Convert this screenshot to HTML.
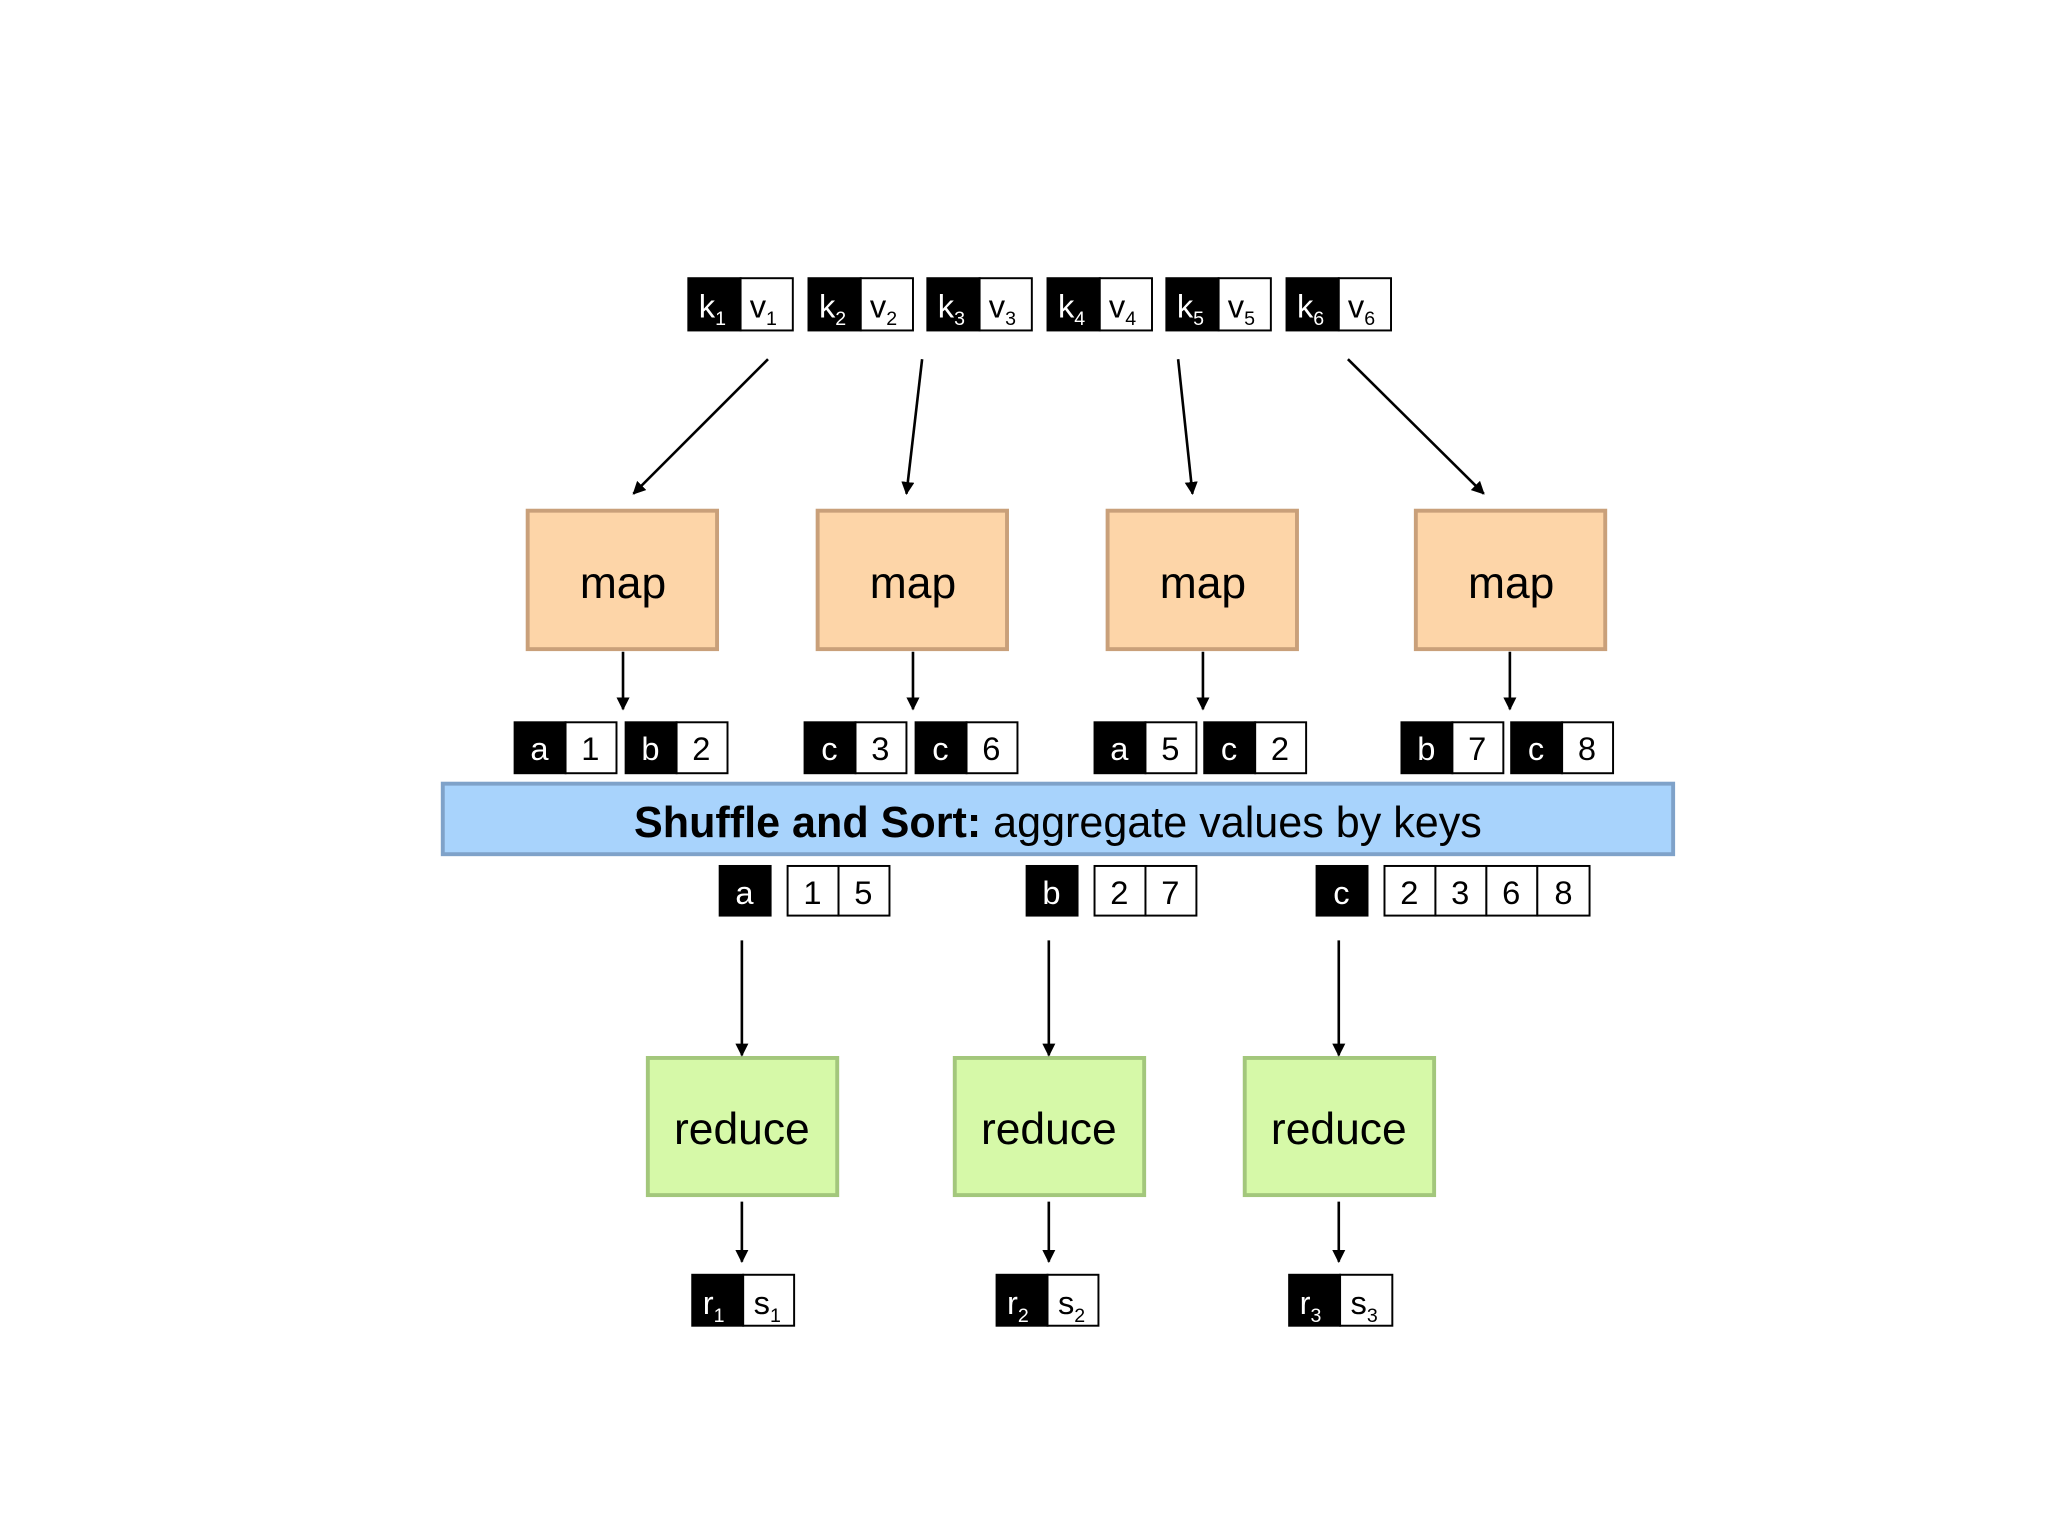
<!DOCTYPE html>
<html><head><meta charset="utf-8"><style>
html,body{margin:0;padding:0;background:#fff;}
svg{display:block;}
text{font-family:"Liberation Sans",sans-serif;}
</style></head><body>
<svg width="2048" height="1536" viewBox="0 0 1568 1176" xmlns="http://www.w3.org/2000/svg">
<defs><marker id="ah" markerWidth="10" markerHeight="10" refX="9" refY="5" orient="auto" markerUnits="userSpaceOnUse"><path d="M0,0 L10,5 L0,10 z" fill="#000"/></marker></defs>
<rect width="1568" height="1176" fill="#fff"/>
<g stroke="#000" stroke-width="1.5">
<!-- top pairs -->
<rect x="527" y="213" width="40" height="40" fill="#000"/><rect x="567" y="213" width="40" height="40" fill="#fff"/>
<rect x="619" y="213" width="40" height="40" fill="#000"/><rect x="659" y="213" width="40" height="40" fill="#fff"/>
<rect x="710" y="213" width="40" height="40" fill="#000"/><rect x="750" y="213" width="40" height="40" fill="#fff"/>
<rect x="802" y="213" width="40" height="40" fill="#000"/><rect x="842" y="213" width="40" height="40" fill="#fff"/>
<rect x="893" y="213" width="40" height="40" fill="#000"/><rect x="933" y="213" width="40" height="40" fill="#fff"/>
<rect x="985" y="213" width="40" height="40" fill="#000"/><rect x="1025" y="213" width="40" height="40" fill="#fff"/>
<!-- map outputs -->
<rect x="394" y="553" width="39" height="39" fill="#000"/><rect x="433" y="553" width="39" height="39" fill="#fff"/>
<rect x="479" y="553" width="39" height="39" fill="#000"/><rect x="518" y="553" width="39" height="39" fill="#fff"/>
<rect x="616" y="553" width="39" height="39" fill="#000"/><rect x="655" y="553" width="39" height="39" fill="#fff"/>
<rect x="701" y="553" width="39" height="39" fill="#000"/><rect x="740" y="553" width="39" height="39" fill="#fff"/>
<rect x="838" y="553" width="39" height="39" fill="#000"/><rect x="877" y="553" width="39" height="39" fill="#fff"/>
<rect x="922" y="553" width="39" height="39" fill="#000"/><rect x="961" y="553" width="39" height="39" fill="#fff"/>
<rect x="1073" y="553" width="39" height="39" fill="#000"/><rect x="1112" y="553" width="39" height="39" fill="#fff"/>
<rect x="1157" y="553" width="39" height="39" fill="#000"/><rect x="1196" y="553" width="39" height="39" fill="#fff"/>
<!-- grouped -->
<rect x="551" y="663" width="39" height="38" fill="#000"/>
<rect x="603" y="663" width="39" height="38" fill="#fff"/><rect x="642" y="663" width="39" height="38" fill="#fff"/>
<rect x="786" y="663" width="39" height="38" fill="#000"/>
<rect x="838" y="663" width="39" height="38" fill="#fff"/><rect x="877" y="663" width="39" height="38" fill="#fff"/>
<rect x="1008" y="663" width="39" height="38" fill="#000"/>
<rect x="1060" y="663" width="39" height="38" fill="#fff"/><rect x="1099" y="663" width="39" height="38" fill="#fff"/><rect x="1138" y="663" width="39" height="38" fill="#fff"/><rect x="1177" y="663" width="40" height="38" fill="#fff"/>
<!-- outputs -->
<rect x="530" y="976" width="39" height="39" fill="#000"/><rect x="569" y="976" width="39" height="39" fill="#fff"/>
<rect x="763" y="976" width="39" height="39" fill="#000"/><rect x="802" y="976" width="39" height="39" fill="#fff"/>
<rect x="987" y="976" width="39" height="39" fill="#000"/><rect x="1026" y="976" width="40" height="39" fill="#fff"/>
</g>
<!-- boxes -->
<g fill="#fdd5a8" stroke="#c9a07a" stroke-width="3">
<rect x="404" y="391" width="145" height="106"/><rect x="626" y="391" width="145" height="106"/>
<rect x="848" y="391" width="145" height="106"/><rect x="1084" y="391" width="145" height="106"/>
</g>
<rect x="339" y="600" width="942" height="54" fill="#a8d3fc" stroke="#7fa2c9" stroke-width="3"/>
<g fill="#d6f9a8" stroke="#a3c77c" stroke-width="3">
<rect x="496" y="810" width="145" height="105"/><rect x="731" y="810" width="145" height="105"/><rect x="953" y="810" width="145" height="105"/>
</g>
<!-- arrows -->
<g stroke="#000" stroke-width="2" marker-end="url(#ah)">
<line x1="588" y1="275" x2="485" y2="378"/><line x1="706" y1="275" x2="694" y2="378"/>
<line x1="902" y1="275" x2="913" y2="378"/><line x1="1032" y1="275" x2="1136" y2="378"/>
<line x1="477" y1="499" x2="477" y2="543"/><line x1="699" y1="499" x2="699" y2="543"/>
<line x1="921" y1="499" x2="921" y2="543"/><line x1="1156" y1="499" x2="1156" y2="543"/>
<line x1="568" y1="720" x2="568" y2="808"/><line x1="803" y1="720" x2="803" y2="808"/><line x1="1025" y1="720" x2="1025" y2="808"/>
<line x1="568" y1="920" x2="568" y2="966"/><line x1="803" y1="920" x2="803" y2="966"/><line x1="1025" y1="920" x2="1025" y2="966"/>
</g>
<!-- box labels -->
<g font-size="34" text-anchor="middle" fill="#000">
<text x="477" y="458">map</text><text x="699" y="458">map</text><text x="921" y="458">map</text><text x="1157" y="458">map</text>
<text x="568" y="876">reduce</text><text x="803" y="876">reduce</text><text x="1025" y="876">reduce</text>
</g>
<text x="810" y="641" font-size="33" text-anchor="middle" fill="#000"><tspan font-weight="bold">Shuffle and Sort:</tspan> aggregate values by keys</text>
<!-- top labels -->
<g font-size="25" fill="#fff">
<text x="535" y="243">k<tspan font-size="15" dy="6">1</tspan></text>
<text x="627" y="243">k<tspan font-size="15" dy="6">2</tspan></text>
<text x="718" y="243">k<tspan font-size="15" dy="6">3</tspan></text>
<text x="810" y="243">k<tspan font-size="15" dy="6">4</tspan></text>
<text x="901" y="243">k<tspan font-size="15" dy="6">5</tspan></text>
<text x="993" y="243">k<tspan font-size="15" dy="6">6</tspan></text>
<text x="538" y="1006">r<tspan font-size="15" dy="6">1</tspan></text>
<text x="771" y="1006">r<tspan font-size="15" dy="6">2</tspan></text>
<text x="995" y="1006">r<tspan font-size="15" dy="6">3</tspan></text>
</g>
<g font-size="25" fill="#000">
<text x="574" y="243">v<tspan font-size="15" dy="6">1</tspan></text>
<text x="666" y="243">v<tspan font-size="15" dy="6">2</tspan></text>
<text x="757" y="243">v<tspan font-size="15" dy="6">3</tspan></text>
<text x="849" y="243">v<tspan font-size="15" dy="6">4</tspan></text>
<text x="940" y="243">v<tspan font-size="15" dy="6">5</tspan></text>
<text x="1032" y="243">v<tspan font-size="15" dy="6">6</tspan></text>
<text x="577" y="1006">s<tspan font-size="15" dy="6">1</tspan></text>
<text x="810" y="1006">s<tspan font-size="15" dy="6">2</tspan></text>
<text x="1034" y="1006">s<tspan font-size="15" dy="6">3</tspan></text>
</g>
<g font-size="25" text-anchor="middle" fill="#fff">
<text x="413" y="582">a</text><text x="498" y="582">b</text><text x="635" y="582">c</text><text x="720" y="582">c</text>
<text x="857" y="582">a</text><text x="941" y="582">c</text><text x="1092" y="582">b</text><text x="1176" y="582">c</text>
<text x="570" y="692">a</text><text x="805" y="692">b</text><text x="1027" y="692">c</text>
</g>
<g font-size="25" text-anchor="middle" fill="#000">
<text x="452" y="582">1</text><text x="537" y="582">2</text><text x="674" y="582">3</text><text x="759" y="582">6</text>
<text x="896" y="582">5</text><text x="980" y="582">2</text><text x="1131" y="582">7</text><text x="1215" y="582">8</text>
<text x="622" y="692">1</text><text x="661" y="692">5</text>
<text x="857" y="692">2</text><text x="896" y="692">7</text>
<text x="1079" y="692">2</text><text x="1118" y="692">3</text><text x="1157" y="692">6</text><text x="1197" y="692">8</text>
</g>
</svg>
</body></html>
